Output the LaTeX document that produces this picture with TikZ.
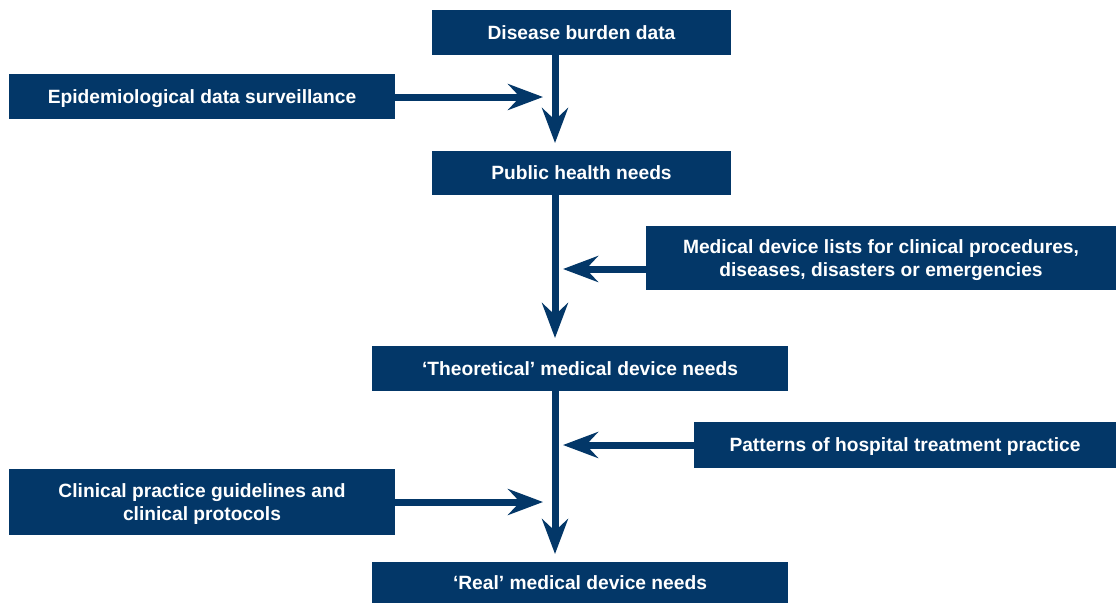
\documentclass[tikz,border=0pt]{standalone}
\usepackage{fontspec}
\setmainfont{Liberation Sans}
\usetikzlibrary{arrows.meta}
\definecolor{navy}{RGB}{3,55,104}
\begin{document}
\begin{tikzpicture}[x=1pt,y=-1pt,
  box/.style={fill=navy,text=white,font=\fontsize{19.2}{23}\selectfont\bfseries,
    align=center,inner sep=0pt,outer sep=0pt,text depth=-3pt,anchor=north west},
  flow/.style={draw=navy,line width=7pt,
    -{Stealth[length=35pt,width=26pt,inset=12pt]}}]
\useasboundingbox (0,0) rectangle (1116,603);
% boxes, placed by their top-left corners
\node[box,minimum width=299pt,minimum height=45pt] (disease) at (432,10) {Disease burden data};
\node[box,minimum width=386pt,minimum height=45pt] (epi) at (9,74) {Epidemiological data surveillance};
\node[box,minimum width=299pt,minimum height=44pt] (public) at (432,151) {Public health needs};
\node[box,minimum width=470pt,minimum height=64pt] (lists) at (646,226) {Medical device lists for clinical procedures,\\diseases, disasters or emergencies};
\node[box,minimum width=416pt,minimum height=45pt] (theo) at (372,346) {‘Theoretical’ medical device needs};
\node[box,minimum width=422pt,minimum height=46pt] (patterns) at (694,422) {Patterns of hospital treatment practice};
\node[box,minimum width=386pt,minimum height=66pt] (guide) at (9,469) {Clinical practice guidelines and\\clinical protocols};
\node[box,minimum width=416pt,minimum height=41pt] (real) at (372,562) {‘Real’ medical device needs};
% free ends of the side inputs, just short of the main spine
\coordinate (in1) at (543,97);
\coordinate (in2) at (563,269);
\coordinate (in3) at (563,445);
\coordinate (in4) at (543,502);
% main spine
\draw[flow,shorten >=8pt] (disease.south -| 555,0) -- (public.north -| 555,0);
\draw[flow,shorten >=8pt] (public.south -| 555,0) -- (theo.north -| 555,0);
\draw[flow,shorten >=8pt] (theo.south -| 555,0) -- (real.north -| 555,0);
% side inputs
\draw[flow] (epi.east |- in1) -- (in1);
\draw[flow] (lists.west |- in2) -- (in2);
\draw[flow] (patterns.west |- in3) -- (in3);
\draw[flow] (guide.east |- in4) -- (in4);
\end{tikzpicture}
\end{document}
